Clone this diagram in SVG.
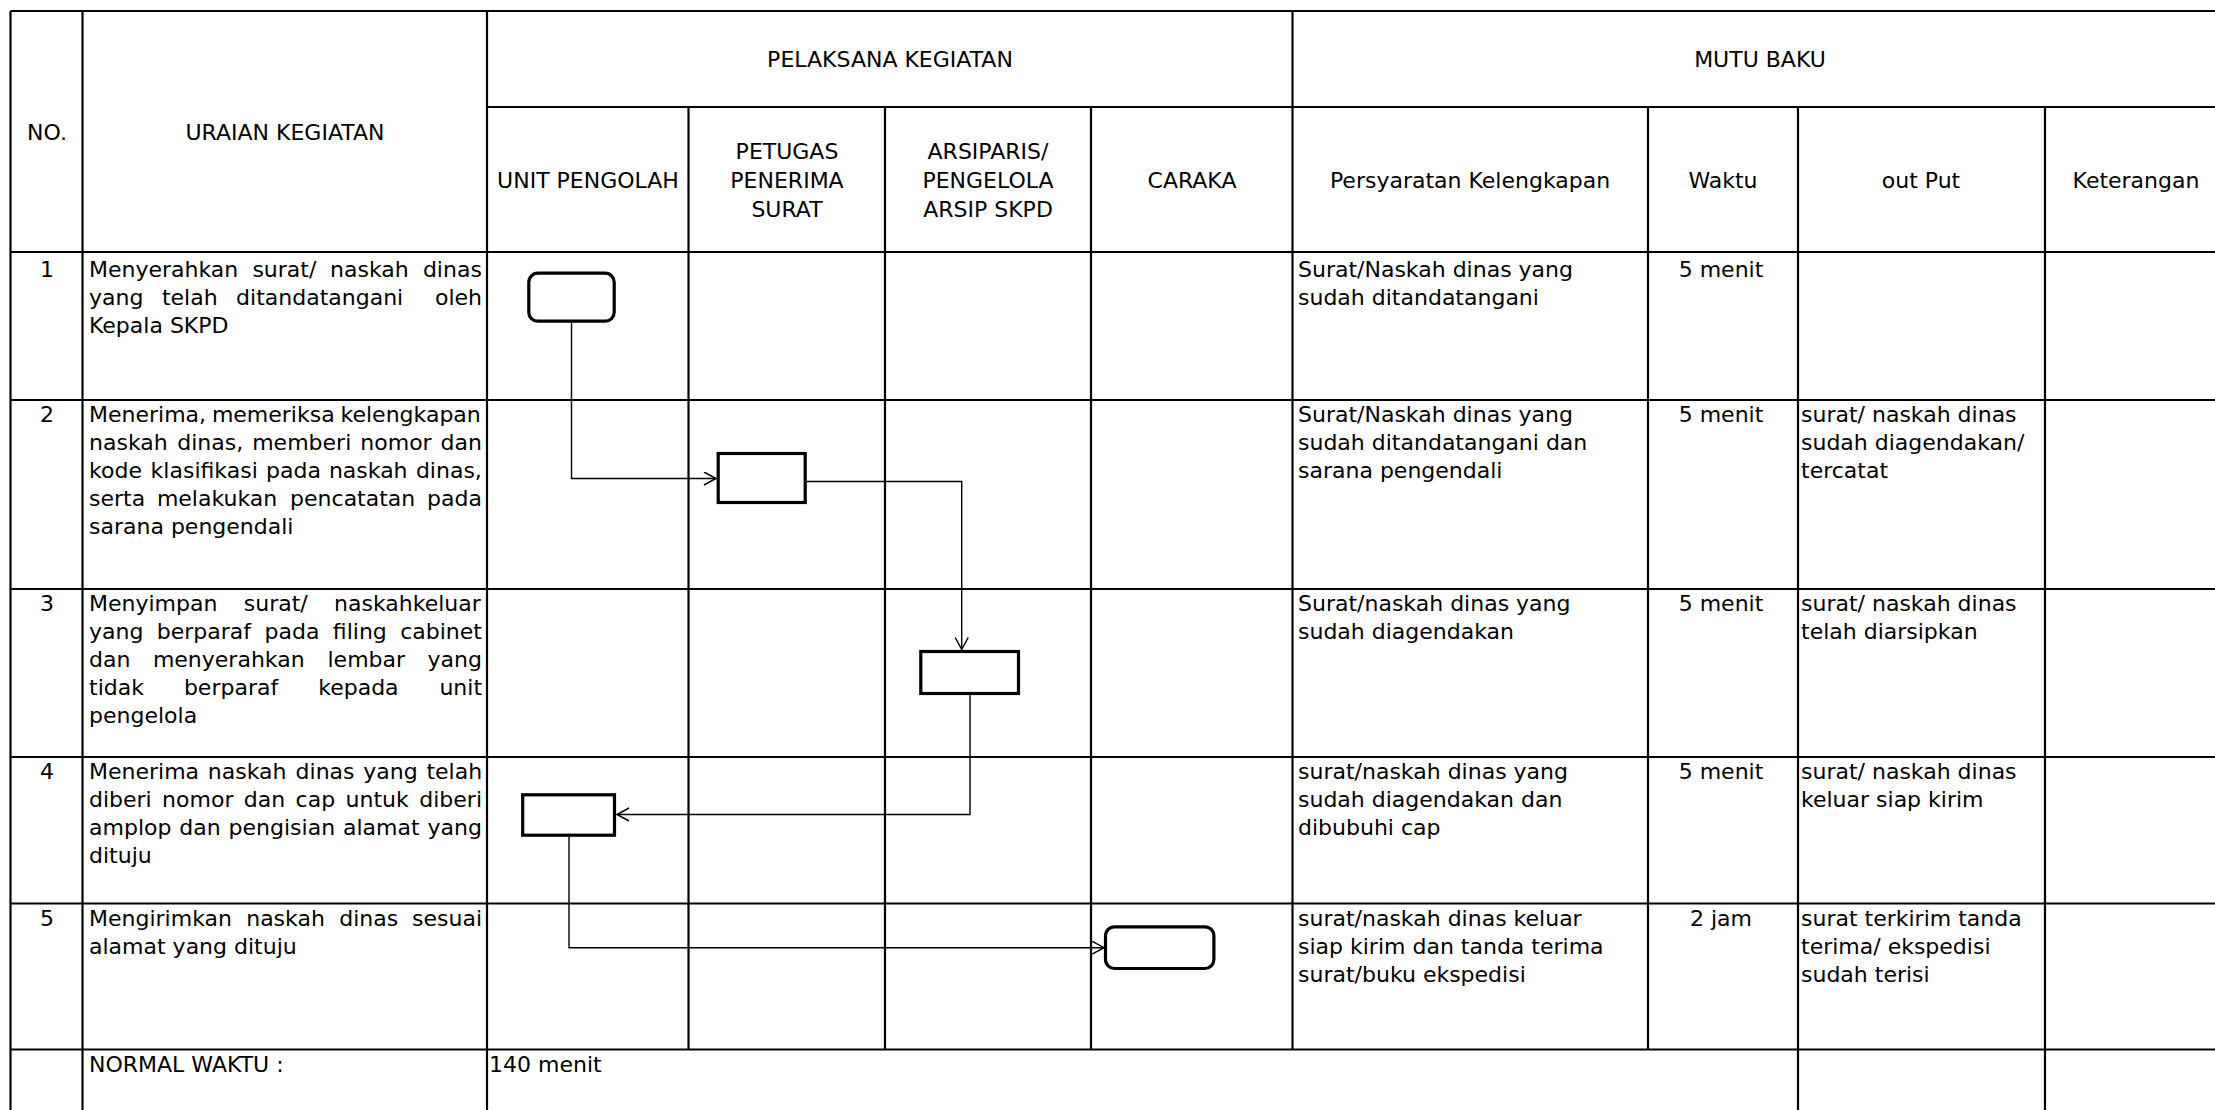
<svg xmlns="http://www.w3.org/2000/svg" width="2215" height="1110" viewBox="0 0 2215 1110">
<style>
text{font-family:"DejaVu Sans","Liberation Sans",sans-serif;font-size:22px;fill:#000}
.c{text-anchor:middle}
.grid line{stroke:#000;stroke-width:2.2}
.node rect{fill:#fff;stroke:#000;stroke-width:3.2}
.conn path{fill:none;stroke:#000;stroke-width:1.4}
</style>
<defs>
<marker id="arr" markerUnits="userSpaceOnUse" markerWidth="16" markerHeight="16" refX="13" refY="7" orient="auto">
<path d="M1,0.5 L13,7 L1,13.5" fill="none" stroke="#000" stroke-width="1.5"/>
</marker>
</defs>
<rect x="0" y="0" width="2215" height="1110" fill="#fff"/>

<g id="grid" class="grid">
<line x1="10.5" y1="11" x2="2215" y2="11"/>
<line x1="487" y1="107" x2="2215" y2="107"/>
<line x1="10.5" y1="252" x2="2215" y2="252"/>
<line x1="10.5" y1="400" x2="2215" y2="400"/>
<line x1="10.5" y1="589" x2="2215" y2="589"/>
<line x1="10.5" y1="757" x2="2215" y2="757"/>
<line x1="10.5" y1="903.5" x2="2215" y2="903.5"/>
<line x1="10.5" y1="1049.5" x2="2215" y2="1049.5"/>
<line x1="10.5" y1="11" x2="10.5" y2="1110"/>
<line x1="82.5" y1="11" x2="82.5" y2="1110"/>
<line x1="487" y1="11" x2="487" y2="1110"/>
<line x1="688.5" y1="107" x2="688.5" y2="1049.5"/>
<line x1="885" y1="107" x2="885" y2="1049.5"/>
<line x1="1091" y1="107" x2="1091" y2="1049.5"/>
<line x1="1292.5" y1="11" x2="1292.5" y2="1049.5"/>
<line x1="1648" y1="107" x2="1648" y2="1049.5"/>
<line x1="1798" y1="107" x2="1798" y2="1110"/>
<line x1="2045" y1="107" x2="2045" y2="1110"/>
</g>

<g id="header">
<text class="c" x="47" y="140">NO.</text>
<text class="c" x="285" y="140">URAIAN KEGIATAN</text>
<text class="c" x="890" y="67">PELAKSANA KEGIATAN</text>
<text class="c" x="1760" y="67">MUTU BAKU</text>
<text class="c" x="588" y="188">UNIT PENGOLAH</text>
<text class="c" x="787" y="159"><tspan x="787">PETUGAS</tspan><tspan x="787" y="188">PENERIMA</tspan><tspan x="787" y="217">SURAT</tspan></text>
<text class="c" x="988" y="159"><tspan x="988">ARSIPARIS/</tspan><tspan x="988" y="188">PENGELOLA</tspan><tspan x="988" y="217">ARSIP SKPD</tspan></text>
<text class="c" x="1192" y="188">CARAKA</text>
<text class="c" x="1470" y="188">Persyaratan Kelengkapan</text>
<text class="c" x="1723" y="188">Waktu</text>
<text class="c" x="1921" y="188">out Put</text>
<text class="c" x="2136" y="188">Keterangan</text>
</g>

<g id="row1">
<text class="c" x="47" y="277">1</text>
<text y="277"><tspan x="89">Menyerahkan</tspan> <tspan x="252.4">surat/</tspan> <tspan x="330.1">naskah</tspan> <tspan x="422.9">dinas</tspan></text>
<text y="305"><tspan x="89">yang</tspan> <tspan x="161.9">telah</tspan> <tspan x="236.1">ditandatangani</tspan> <tspan x="435">oleh</tspan></text>
<text x="89" y="333">Kepala SKPD</text>
<text x="1298" y="277">Surat/Naskah dinas yang</text>
<text x="1298" y="305">sudah ditandatangani</text>
<text class="c" x="1721" y="277">5 menit</text>
</g>

<g id="row2">
<text class="c" x="47" y="422">2</text>
<text y="422"><tspan x="89">Menerima,</tspan> <tspan x="211.9">memeriksa</tspan> <tspan x="340.5">kelengkapan</tspan></text>
<text y="450"><tspan x="89">naskah</tspan> <tspan x="177.2">dinas,</tspan> <tspan x="252.2">memberi</tspan> <tspan x="360.3">nomor</tspan> <tspan x="440.6">dan</tspan></text>
<text y="478"><tspan x="89">kode</tspan> <tspan x="150.6">klasifikasi</tspan> <tspan x="266.1">pada</tspan> <tspan x="328.9">naskah</tspan> <tspan x="415.9">dinas,</tspan></text>
<text y="506"><tspan x="89">serta</tspan> <tspan x="156.9">melakukan</tspan> <tspan x="290.1">pencatatan</tspan> <tspan x="427.1">pada</tspan></text>
<text x="89" y="534">sarana pengendali</text>
<text x="1298" y="422">Surat/Naskah dinas yang</text>
<text x="1298" y="450">sudah ditandatangani dan</text>
<text x="1298" y="478">sarana pengendali</text>
<text class="c" x="1721" y="422">5 menit</text>
<text x="1801" y="422">surat/ naskah dinas</text>
<text x="1801" y="450">sudah diagendakan/</text>
<text x="1801" y="478">tercatat</text>
</g>

<g id="row3">
<text class="c" x="47" y="611">3</text>
<text y="611"><tspan x="89">Menyimpan</tspan> <tspan x="243.8">surat/</tspan> <tspan x="334.1">naskahkeluar</tspan></text>
<text y="639"><tspan x="89">yang</tspan> <tspan x="156.8">berparaf</tspan> <tspan x="264.5">pada</tspan> <tspan x="332.8">filing</tspan> <tspan x="400.2">cabinet</tspan></text>
<text y="667"><tspan x="89">dan</tspan> <tspan x="152.9">menyerahkan</tspan> <tspan x="327.5">lembar</tspan> <tspan x="427.6">yang</tspan></text>
<text y="695"><tspan x="89">tidak</tspan> <tspan x="183.9">berparaf</tspan> <tspan x="318.2">kepada</tspan> <tspan x="439.4">unit</tspan></text>
<text x="89" y="723">pengelola</text>
<text x="1298" y="611">Surat/naskah dinas yang</text>
<text x="1298" y="639">sudah diagendakan</text>
<text class="c" x="1721" y="611">5 menit</text>
<text x="1801" y="611">surat/ naskah dinas</text>
<text x="1801" y="639">telah diarsipkan</text>
</g>

<g id="row4">
<text class="c" x="47" y="779">4</text>
<text y="779"><tspan x="89">Menerima</tspan> <tspan x="207.8">naskah</tspan> <tspan x="295.6">dinas</tspan> <tspan x="363.3">yang</tspan> <tspan x="426.4">telah</tspan></text>
<text y="807"><tspan x="89">diberi</tspan> <tspan x="162.1">nomor</tspan> <tspan x="243.8">dan</tspan> <tspan x="295.6">cap</tspan> <tspan x="345.6">untuk</tspan> <tspan x="419.3">diberi</tspan></text>
<text y="835"><tspan x="89">amplop</tspan> <tspan x="179.3">dan</tspan> <tspan x="228.6">pengisian</tspan> <tspan x="343">alamat</tspan> <tspan x="427.6">yang</tspan></text>
<text x="89" y="863">dituju</text>
<text x="1298" y="779">surat/naskah dinas yang</text>
<text x="1298" y="807">sudah diagendakan dan</text>
<text x="1298" y="835">dibubuhi cap</text>
<text class="c" x="1721" y="779">5 menit</text>
<text x="1801" y="779">surat/ naskah dinas</text>
<text x="1801" y="807">keluar siap kirim</text>
</g>

<g id="row5">
<text class="c" x="47" y="926">5</text>
<text y="926"><tspan x="89">Mengirimkan</tspan> <tspan x="246.2">naskah</tspan> <tspan x="339.2">dinas</tspan> <tspan x="412.1">sesuai</tspan></text>
<text x="89" y="954">alamat yang dituju</text>
<text x="1298" y="926">surat/naskah dinas keluar</text>
<text x="1298" y="954">siap kirim dan tanda terima</text>
<text x="1298" y="982">surat/buku ekspedisi</text>
<text class="c" x="1721" y="926">2 jam</text>
<text x="1801" y="926">surat terkirim tanda</text>
<text x="1801" y="954">terima/ ekspedisi</text>
<text x="1801" y="982">sudah terisi</text>
</g>

<g id="total">
<text x="89" y="1072">NORMAL WAKTU :</text>
<text x="489" y="1072">140 menit</text>
</g>

<g id="connectors" class="conn">
<path d="M571.5 322.7 V478.5 H716" marker-end="url(#arr)"/>
<path d="M806.7 481.5 H961.7 V649.5" marker-end="url(#arr)"/>
<path d="M970 695 V814.5 H617" marker-end="url(#arr)"/>
<path d="M569 836.7 V947.7 H1104" marker-end="url(#arr)"/>
</g>

<g id="node1" class="node"><rect x="528.8" y="273.2" width="85.4" height="48" rx="9"/></g>
<g id="node2" class="node"><rect x="718.2" y="453.5" width="87" height="49"/></g>
<g id="node3" class="node"><rect x="920.8" y="651.5" width="97.7" height="42"/></g>
<g id="node4" class="node"><rect x="522.7" y="794.8" width="91.8" height="40.4"/></g>
<g id="node5" class="node"><rect x="1105.5" y="926.8" width="108.4" height="41.7" rx="9"/></g>
</svg>
